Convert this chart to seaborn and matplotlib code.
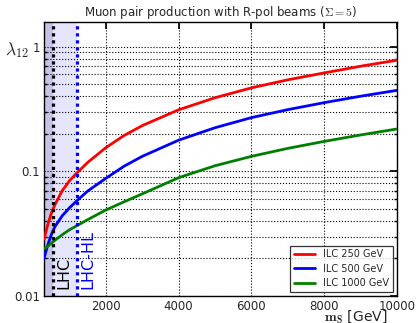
import numpy as np
import pandas as pd
import matplotlib
matplotlib.use("Agg")
import matplotlib.pyplot as plt
import seaborn as sns

# ---- data ----
mass = [300, 400, 500, 600, 800, 1000, 1200, 1500, 2000, 2500, 3000, 4000,
        5000, 6000, 7000, 8000, 9000, 10000]
ilc250 = [0.0285, 0.037, 0.046, 0.054, 0.070, 0.084, 0.097, 0.118, 0.155,
          0.194, 0.233, 0.312, 0.39, 0.468, 0.543, 0.617, 0.698, 0.78]
ilc500 = [0.0200, 0.0255, 0.031, 0.036, 0.044, 0.051, 0.058, 0.0695, 0.088,
          0.110, 0.132, 0.178, 0.224, 0.270, 0.313, 0.356, 0.401, 0.447]
ilc1000 = [0.0239, 0.0250, 0.0265, 0.028, 0.031, 0.034, 0.0366, 0.041, 0.049,
           0.057, 0.066, 0.089, 0.111, 0.132, 0.153, 0.174, 0.196, 0.219]
series_names = ["ILC 250 GeV", "ILC 500 GeV", "ILC 1000 GeV"]
series_colors = ["#ff0000", "#0000ff", "#008000"]
lhc_limit = 550
lhchl_limit = 1200
x_ticks = [2000, 4000, 6000, 8000, 10000]
y_ticks = [0.01, 0.1, 1]
y_ticklabels = ["0.01", "0.1", "1"]

df = pd.DataFrame({
    "m": mass * 3,
    "lam": ilc250 + ilc500 + ilc1000,
    "series": sum([[n] * len(mass) for n in series_names], []),
})

sns.set_theme(style="white")
plt.rcParams["font.family"] = ["DejaVu Sans"]
plt.rcParams["mathtext.fontset"] = "cm"

fig = plt.figure(figsize=(4.17, 3.23), dpi=100)
ax = fig.add_axes([44 / 417, 1 - 296 / 323, (397 - 44) / 417, (296 - 22) / 323])

ax.axvspan(0, lhchl_limit, color=(0.0, 0.0, 0.85), alpha=0.10, lw=0, zorder=0)
ax.axvspan(0, lhc_limit, color=(0.0, 0.0, 0.45), alpha=0.14, lw=0, zorder=0)

sns.lineplot(data=df, x="m", y="lam", hue="series", palette=series_colors,
             hue_order=series_names, ax=ax, lw=2, zorder=3, estimator=None)

ax.axvline(lhc_limit, color="black", ls=(0, (1, 1.2)), lw=2.3, zorder=4)
ax.axvline(lhchl_limit, color="blue", ls=(0, (1, 1.2)), lw=2.3, zorder=4)
ax.text(lhc_limit + 90, 0.0113, "LHC", rotation=90, color="black",
        fontsize=11.5, ha="left", va="bottom", zorder=5)
ax.text(lhchl_limit + 90, 0.0113, "LHC-HL", rotation=90, color="blue",
        fontsize=11.5, ha="left", va="bottom", zorder=5)

ax.set_yscale("log")
ax.set_xlim(300, 10000)
ax.set_ylim(0.01, 1.58)
ax.set_xticks(x_ticks)
ax.set_xticklabels([str(t) for t in x_ticks])
ax.set_yticks(y_ticks)
ax.set_yticklabels(y_ticklabels)

ax.grid(True, which="major", axis="x", color="black", ls=":", lw=0.8)
ax.grid(True, which="both", axis="y", color="black", ls=":", lw=0.8)
ax.set_axisbelow(False)

ax.tick_params(axis="both", which="major", direction="in", length=5,
               labelsize=8.5, top=True, right=True, color="black", pad=3)
ax.tick_params(axis="y", which="minor", direction="in", length=2.5,
               left=True, right=True, color="black")
for s in ax.spines.values():
    s.set_color("black")
    s.set_linewidth(1.0)

ax.set_title(r"Muon pair production with R-pol beams ($\Sigma=5$)",
             fontsize=8.5, pad=4)
ax.set_xlabel(r"$\mathbf{m_S}$ [GeV]", fontsize=10, labelpad=0)
ax.xaxis.set_label_coords(0.974, -0.046)
ax.xaxis.label.set_va("top")
ax.xaxis.label.set_ha("right")
ax.set_ylabel(r"$\lambda_{12}$", fontsize=12.5, rotation=0, labelpad=0)
ax.yaxis.set_label_coords(-0.076, 0.86)

leg = ax.legend(loc="lower right", fontsize=7, frameon=True, fancybox=False,
                borderaxespad=0.4, handlelength=2.2, labelspacing=0.45)
leg.get_frame().set_edgecolor("black")
leg.get_frame().set_linewidth(0.9)
leg.set_zorder(6)

fig.savefig("out.png", dpi=100)
